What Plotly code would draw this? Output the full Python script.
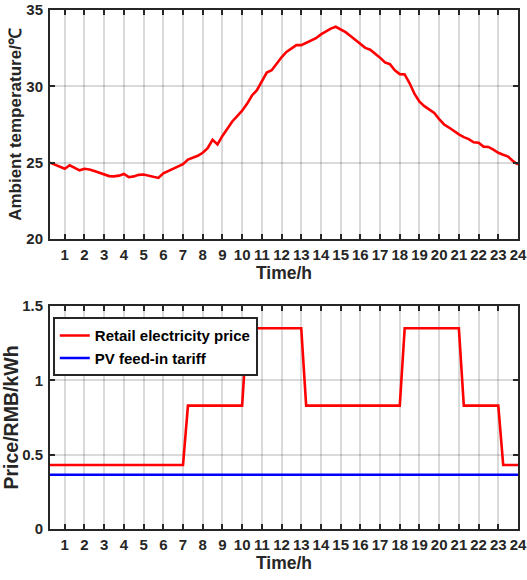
import plotly.graph_objects as go

# ---------------- data ----------------
time_h = [0.25, 0.5, 0.75, 1.0, 1.25, 1.5, 1.75, 2.0, 2.25, 2.5, 2.75, 3.0,
          3.25, 3.5, 3.75, 4.0, 4.25, 4.5, 4.75, 5.0, 5.25, 5.5, 5.75, 6.0,
          6.25, 6.5, 6.75, 7.0, 7.25, 7.5, 7.75, 8.0, 8.25, 8.5, 8.75, 9.0,
          9.25, 9.5, 9.75, 10.0, 10.25, 10.5, 10.75, 11.0, 11.25, 11.5, 11.75, 12.0,
          12.25, 12.5, 12.75, 13.0, 13.25, 13.5, 13.75, 14.0, 14.25, 14.5, 14.75, 15.0,
          15.25, 15.5, 15.75, 16.0, 16.25, 16.5, 16.75, 17.0, 17.25, 17.5, 17.75, 18.0,
          18.25, 18.5, 18.75, 19.0, 19.25, 19.5, 19.75, 20.0, 20.25, 20.5, 20.75, 21.0,
          21.25, 21.5, 21.75, 22.0, 22.25, 22.5, 22.75, 23.0, 23.25, 23.5, 23.75, 24.0]

temperature = [25.0, 24.88, 24.75, 24.6, 24.83, 24.65, 24.5, 24.6, 24.55, 24.45, 24.35, 24.25,
               24.12, 24.1, 24.15, 24.26, 24.05, 24.1, 24.2, 24.22, 24.15, 24.12, 24.0, 24.3,
               24.45, 24.6, 24.78, 24.9, 25.2, 25.3, 25.45, 25.65, 25.95, 26.5, 26.2, 26.75,
               27.25, 27.7, 28.05, 28.4, 28.85, 29.4, 29.75, 30.3, 30.9, 31.05, 31.5, 31.9,
               32.25, 32.5, 32.7, 32.7, 32.85, 33.0, 33.15, 33.4, 33.6, 33.78, 33.9, 33.72,
               33.55, 33.3, 33.05, 32.75, 32.52, 32.4, 32.15, 31.88, 31.57, 31.45, 31.05, 30.8,
               30.78, 30.2, 29.5, 29.0, 28.7, 28.5, 28.25, 27.85, 27.5, 27.3, 27.05, 26.85,
               26.67, 26.54, 26.33, 26.3, 26.05, 26.03, 25.85, 25.65, 25.52, 25.4, 25.1, 24.88]

price_time = [0.25, 7.0, 7.25, 10.0, 10.25, 13.0, 13.25, 18.0, 18.25, 21.0, 21.25, 23.0, 23.25, 24.0]
retail_price = [0.43, 0.43, 0.83, 0.83, 1.35, 1.35, 0.83, 0.83, 1.35, 1.35, 0.83, 0.83, 0.43, 0.43]

pv_time = [0.25, 24.0]
pv_tariff = [0.365, 0.365]

hour_ticks = list(range(1, 25))
hour_labels = [str(h) for h in hour_ticks]
temp_ticks = [20, 25, 30, 35]
price_ticks = [0, 0.5, 1, 1.5]
price_tick_labels = ["0", "0.5", "1", "1.5"]

# ---------------- figure ----------------
FONT = "Liberation Sans, Arial, sans-serif"
AX = "#262626"
GRID = "rgba(38,38,38,0.17)"

fig = go.Figure()
fig.add_trace(go.Scatter(x=time_h, y=temperature, mode="lines",
                         line=dict(color="#ff0000", width=2.6),
                         showlegend=False, xaxis="x", yaxis="y"))
fig.add_trace(go.Scatter(x=price_time, y=retail_price, mode="lines",
                         name="Retail electricity price",
                         line=dict(color="#ff0000", width=2.6),
                         xaxis="x2", yaxis="y2"))
fig.add_trace(go.Scatter(x=pv_time, y=pv_tariff, mode="lines",
                         name="PV feed-in tariff",
                         line=dict(color="#0000ff", width=2.6),
                         xaxis="x2", yaxis="y2"))

tickfont = dict(family=FONT, size=15, color=AX, weight="bold")

def xaxis_cfg(anchor, standoff):
    return dict(
        anchor=anchor, domain=[0, 1], range=[0.25, 24], automargin=False,
        tickvals=hour_ticks, ticktext=hour_labels,
        ticks="inside", ticklen=5, tickwidth=1.5, tickcolor=AX,
        showline=True, linecolor=AX, linewidth=2, mirror="ticks",
        showgrid=True, gridcolor=GRID, gridwidth=2, zeroline=False,
        tickfont=tickfont, ticklabelstandoff=1,
        title=dict(text="Time/h", font=dict(family=FONT, size=17.5, color=AX, weight="bold"),
                   standoff=standoff),
    )

def yaxis_cfg(anchor, domain, rng, tv, tt, title, tsize, standoff):
    return dict(
        anchor=anchor, domain=domain, range=rng, automargin=False,
        tickvals=tv, ticktext=tt,
        ticks="inside", ticklen=5, tickwidth=1.5, tickcolor=AX,
        showline=True, linecolor=AX, linewidth=2, mirror="ticks",
        showgrid=True, gridcolor=GRID, gridwidth=2, zeroline=False,
        tickfont=tickfont, ticklabelstandoff=2,
        title=dict(text=title, font=dict(family=FONT, size=tsize, color=AX, weight="bold"),
                   standoff=standoff),
    )

fig.update_layout(
    width=527, height=580,
    margin=dict(l=50, r=9, t=10, b=51, autoexpand=False),
    paper_bgcolor="white", plot_bgcolor="white",
    font=dict(family=FONT, color=AX),
    xaxis=xaxis_cfg("y", 1),
    yaxis=yaxis_cfg("x", [0.5588, 1.0], [20, 35], temp_ticks,
                    [str(v) for v in temp_ticks], "Ambient temperature/℃", 17, 0),
    xaxis2=xaxis_cfg("y2", 4),
    yaxis2=yaxis_cfg("x2", [0.0, 0.4297], [0, 1.5], price_ticks,
                     price_tick_labels, "Price/RMB/kWh", 19.5, 5),
    legend=dict(x=0.006, y=0.408, xanchor="left", yanchor="top",
                bgcolor="white", bordercolor=AX, borderwidth=2,
                font=dict(family=FONT, size=15, color="black", weight="bold"),
                itemwidth=30, tracegroupgap=0),
    showlegend=True,
)

fig.write_html("out.html", config={"displayModeBar": False},
               post_script="document.body.style.margin='0';document.body.style.overflow='hidden';")
